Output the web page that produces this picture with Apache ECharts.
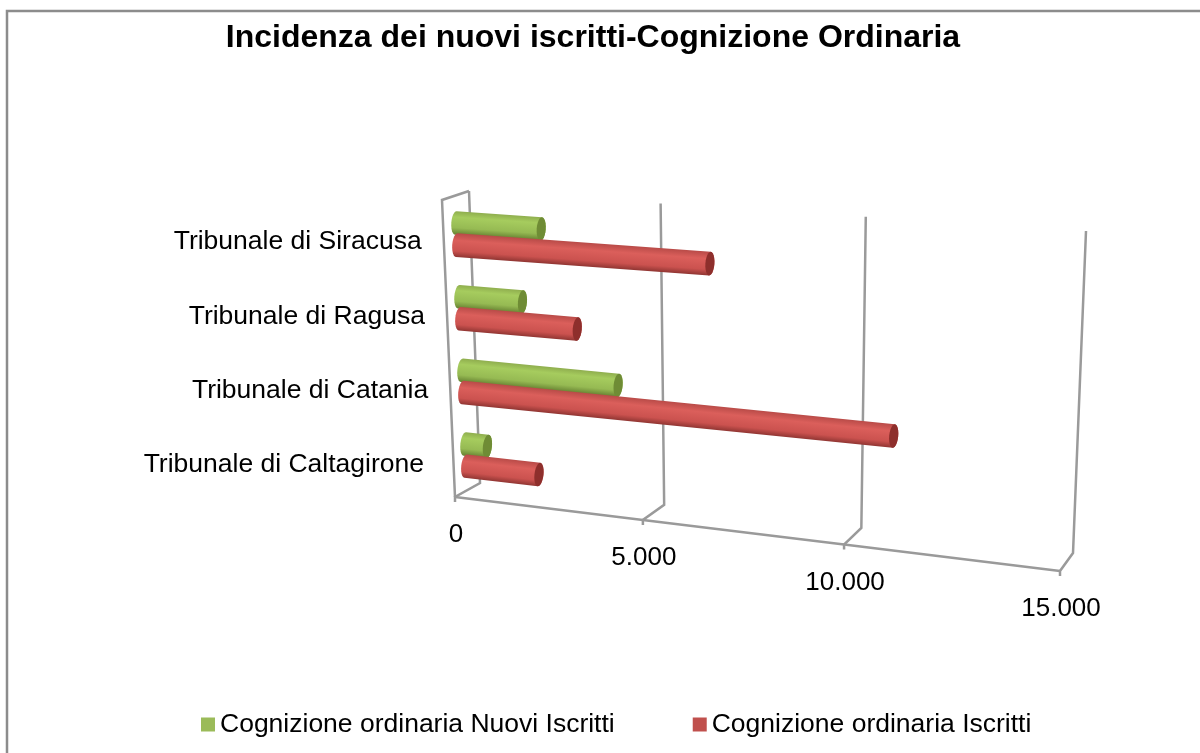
<!DOCTYPE html>
<html>
<head>
<meta charset="utf-8">
<style>
  html, body { margin: 0; padding: 0; background: #fff; }
  #chart { width: 1200px; height: 753px; }
</style>
<script src="https://cdn.jsdelivr.net/npm/echarts@6/dist/echarts.min.js"></script>
</head>
<body>
<div id="chart"></div>
<script>
// dati (dal basso verso l'alto)
const categorie = ['Tribunale di Caltagirone ', 'Tribunale di Catania', 'Tribunale di Ragusa', 'Tribunale di Siracusa'];
const nuoviIscritti = [620, 4150, 1700, 2250];
const iscritti = [2000, 10950, 3120, 6500];
const tickValori = [0, 5000, 10000, 15000];
const tickEtichette = ['0', '5.000', '10.000', '15.000'];
const nomeNuovi = 'Cognizione ordinaria Nuovi Iscritti';
const nomeIscritti = 'Cognizione ordinaria Iscritti';
const titolo = 'Incidenza dei nuovi iscritti-Cognizione Ordinaria';

const FONT = '"Liberation Sans", Arial, sans-serif';
const GRIGIO = '#9a9a9a';

// Angoli della scatola 3D sullo schermo
const box = {
  frontBottomLeft: [455, 497], frontBottomRight: [1060, 571],
  frontTopLeft: [442, 200], frontTopRight: [1074, 240],
  backBottomLeft: [480, 483], backBottomRight: [1073, 553],
  backTopLeft: [469, 191], backTopRight: [1086, 231]
};
const PROSPETTIVA = 0.11; // accorciamento lungo l'asse dei valori
const PROFONDITA_BARRE = 0.47; // piano delle barre tra fronte (0) e fondo (1)

function lerp(a, b, t) {
  return [a[0] + (b[0] - a[0]) * t, a[1] + (b[1] - a[1]) * t];
}

// t: frazione sull'asse valori, h: frazione in altezza, d: profondità
function proietta(t, h, d) {
  const s = t / (1 + PROSPETTIVA - PROSPETTIVA * t);
  const fb = lerp(box.frontBottomLeft, box.frontBottomRight, s);
  const ft = lerp(box.frontTopLeft, box.frontTopRight, s);
  const bb = lerp(box.backBottomLeft, box.backBottomRight, s);
  const bt = lerp(box.backTopLeft, box.backTopRight, s);
  return lerp(lerp(fb, ft, h), lerp(bb, bt, h), d);
}

// da pixel della griglia (scale di ECharts) a frazioni del piano
function frazioni(params, pt) {
  const r = params.coordSys;
  return [(pt[0] - r.x) / r.width, 1 - (pt[1] - r.y) / r.height];
}

function ellisse(c, u, n, a, r, da, a2) {
  const pts = [];
  for (let g = da; g <= a2 + 0.1; g += 15) {
    const q = g * Math.PI / 180;
    pts.push([
      c[0] + u[0] * a * Math.cos(q) + n[0] * r * Math.sin(q),
      c[1] + u[1] * a * Math.cos(q) + n[1] * r * Math.sin(q)
    ]);
  }
  return pts;
}

function renderCilindro(stops, colTappo, offset) {
  return function (params, api) {
    const v = api.value(0);
    const cat = api.value(1);
    const banda = api.size([0, 1])[1];
    const pBase = api.coord([0, cat]);
    const pFine = api.coord([v, cat]);
    const dy = offset * banda;
    const f0 = frazioni(params, [pBase[0], pBase[1] + dy]);
    const f1 = frazioni(params, [pFine[0], pFine[1] + dy]);
    const P0 = proietta(f0[0], f0[1], PROFONDITA_BARRE);
    const P1 = proietta(f1[0], f1[1], PROFONDITA_BARRE);
    const len = Math.hypot(P1[0] - P0[0], P1[1] - P0[1]);
    const u = [(P1[0] - P0[0]) / len, (P1[1] - P0[1]) / len];
    const n = [-u[1], u[0]];
    // raggio: il 16% della banda, misurato sullo schermo
    const fr = frazioni(params, [pBase[0], pBase[1] + dy + banda * 0.16]);
    const Pr = proietta(fr[0], fr[1], PROFONDITA_BARRE);
    const r = Math.hypot(Pr[0] - P0[0], Pr[1] - P0[1]);
    const a = 4.5;
    const corpo = ellisse(P1, u, n, a, r, -90, 90).concat(ellisse(P0, u, n, a, r, 90, 270));
    const grad = new echarts.graphic.LinearGradient(
      P0[0] - n[0] * r, P0[1] - n[1] * r,
      P0[0] + n[0] * r, P0[1] + n[1] * r,
      stops, true
    );
    return {
      type: 'group',
      children: [
        { type: 'polygon', shape: { points: corpo }, style: { fill: grad } },
        { type: 'polygon', shape: { points: ellisse(P1, u, n, a, r, 0, 345) }, style: { fill: colTappo } }
      ]
    };
  };
}

// pareti: linee di griglia ed etichette dell'asse valori
function renderGriglia(params, api) {
  const idx = params.dataIndex;
  const p = api.coord([api.value(0), 0]);
  const t = frazioni(params, p)[0];
  const a = proietta(t, 0, 0);
  const b = proietta(t, 0, 1);
  const c = proietta(t, 1, 1);
  const linea = { stroke: GRIGIO, lineWidth: 2.5, fill: 'none' };
  const children = [
    { type: 'polyline', shape: { points: [[a[0], a[1] + 5], a, b, c] }, style: linea },
    {
      type: 'text',
      style: {
        text: tickEtichette[idx], x: a[0] + 1, y: a[1] + 38,
        align: 'center', verticalAlign: 'middle', fill: '#000', font: '26px ' + FONT
      }
    }
  ];
  if (idx === 0) {
    children.push({ type: 'polyline', shape: { points: [a, proietta(0, 1, 0), c] }, style: linea });
  }
  if (idx < tickValori.length - 1) {
    const fine = frazioni(params, api.coord([tickValori[idx + 1], 0]))[0];
    const q = proietta(fine, 0, 0);
    children.push({ type: 'line', shape: { x1: a[0], y1: a[1], x2: q[0], y2: q[1] }, style: linea });
  }
  return { type: 'group', children: children };
}

function renderCategorie(params, api) {
  const f = frazioni(params, api.coord([0, api.value(0)]));
  const p = proietta(0, f[1], 0);
  return {
    type: 'text',
    style: {
      text: categorie[params.dataIndex], x: p[0] - 22, y: p[1] + 5,
      align: 'right', verticalAlign: 'middle', fill: '#000', font: '26.5px ' + FONT
    }
  };
}

const STOP_VERDE = [
  { offset: 0, color: '#8fae4e' }, { offset: 0.25, color: '#a6cc5e' },
  { offset: 0.7, color: '#96ba53' }, { offset: 1, color: '#647f30' }
];
const STOP_ROSSO = [
  { offset: 0, color: '#b94b48' }, { offset: 0.3, color: '#db5f5b' },
  { offset: 0.75, color: '#cb524f' }, { offset: 1, color: '#913633' }
];

const chart = echarts.init(document.getElementById('chart'));
chart.setOption({
  animation: false,
  backgroundColor: '#fff',
  title: {
    text: titolo, left: 588, top: 17, textAlign: 'center',
    textStyle: { fontFamily: FONT, fontWeight: 'bold', fontSize: 32, color: '#000' }
  },
  legend: {
    data: [nomeNuovi, nomeIscritti],
    left: 196, top: 706, icon: 'rect', itemWidth: 14, itemHeight: 14, itemGap: 78,
    textStyle: { fontFamily: FONT, fontSize: 26.5, color: '#000' }
  },
  grid: { left: 0, right: 0, top: 0, bottom: 0 },
  xAxis: { type: 'value', min: 0, max: 15000, show: false },
  yAxis: { type: 'category', data: categorie, show: false },
  graphic: {
    elements: [{
      type: 'polyline', silent: true,
      shape: { points: [[7, 753], [7, 11], [1200, 11]] },
      style: { stroke: '#8c8c8c', lineWidth: 2.5, fill: 'none' }
    }]
  },
  series: [
    { type: 'custom', name: 'griglia', silent: true, clip: false, renderItem: renderGriglia, data: tickValori.map(v => [v]) },
    { type: 'custom', name: 'categorie', silent: true, clip: false, renderItem: renderCategorie, data: categorie.map((c, i) => [i]) },
    {
      type: 'custom', name: nomeNuovi, clip: false, itemStyle: { color: '#9bbb59' },
      renderItem: renderCilindro(STOP_VERDE, '#6f8c35', -0.13),
      data: nuoviIscritti.map((v, i) => [v, i])
    },
    {
      type: 'custom', name: nomeIscritti, clip: false, itemStyle: { color: '#c0504d' },
      renderItem: renderCilindro(STOP_ROSSO, '#8e2f2c', 0.17),
      data: iscritti.map((v, i) => [v, i])
    }
  ]
});
</script>
</body>
</html>
